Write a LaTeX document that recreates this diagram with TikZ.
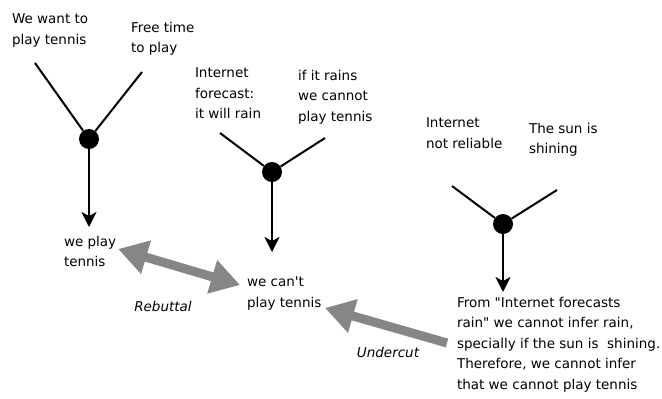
\documentclass[tikz,border=0pt]{standalone}
\usepackage{fontspec}
\setmainfont{DejaVu Sans}[Ligatures=TeXOff]
\usetikzlibrary{arrows.meta,calc}

\tikzset{
  txt/.style={anchor=north west, inner sep=0pt, outer sep=0pt, align=left,
    font=\fontsize{13.5bp}{20.5bp}\selectfont},
  lbl/.style={inner sep=0pt, font=\fontsize{13.5bp}{16bp}\selectfont\itshape},
  joint/.style={circle, fill=black, inner sep=0pt, minimum size=20bp},
  leg/.style={line width=2bp},
  infer/.style={line width=2bp, -{Stealth[length=15bp,width=15bp,inset=4bp]}},
  attack/.style={line width=9bp, draw=gray!95,
    -{Triangle[length=29bp,width=33bp]}},
  rebut/.style={line width=9bp, draw=gray!95,
    {Triangle[length=29bp,width=33bp]}-{Triangle[length=29bp,width=33bp]}},
}

\begin{document}
\begin{tikzpicture}[x=1bp,y=-1bp]
\useasboundingbox (0,0) rectangle (662,398);

% first argument: we play tennis
\node[txt] (a1) at (12,14) {We want to\\play tennis};
\node[txt] (a2) at (131,22) {Free time\\to play};
\coordinate (a1e) at (35,63);
\coordinate (a2e) at (142,72);
\node[joint] (d1) at (89,139) {};
\node[txt] (c1) at (64,236) {we play\\tennis};
\draw[leg] (a1e) -- (d1);
\draw[leg] (a2e) -- (d1);
\draw[infer] (d1) -- ($(d1 |- c1.north)+(0,-9)$);

% second argument: we can't play tennis
\node[txt] (b1) at (195,68) {Internet\\forecast:\\it will rain};
\node[txt] (b2) at (298,70) {if it rains\\we cannot\\play tennis};
\coordinate (b1e) at (220,133);
\coordinate (b2e) at (325,138);
\node[joint] (d2) at (272,172) {};
\node[txt] (c2) at (247,277) {we can't\\play tennis};
\draw[leg] (b1e) -- (d2);
\draw[leg] (b2e) -- (d2);
\draw[infer] (d2) -- ($(d2 |- c2.north)+(0,-25)$);

% third argument: the undercutter
\node[txt] (e1) at (426,118) {Internet\\not reliable};
\node[txt] (e2) at (529,123) {The sun is\\shining};
\coordinate (e1e) at (452,186);
\coordinate (e2e) at (557,190);
\node[joint] (d3) at (503,224) {};
\node[txt] (c3) at (457,297) {From "Internet forecasts\\rain" we cannot infer rain,\\specially if the sun is\ \ shining.\\Therefore, we cannot infer\\that we cannot play tennis};
\draw[leg] (e1e) -- (d3);
\draw[leg] (e2e) -- (d3);
\draw[infer] (d3) -- ($(d3 |- c3.north)+(0,-5)$);

% attacks between the conclusions
\draw[rebut] ($(c1.north east)+(2,13)$) -- ($(c2.north west)+(-7,8)$);
\node[lbl] (r) at (163,306) {Rebuttal};
\draw[attack] ($(c3.north west)+(-10,46)$) -- ($(c2.north west)+(78,31)$);
\node[lbl] (u) at (388,352) {Undercut};
\end{tikzpicture}
\end{document}
